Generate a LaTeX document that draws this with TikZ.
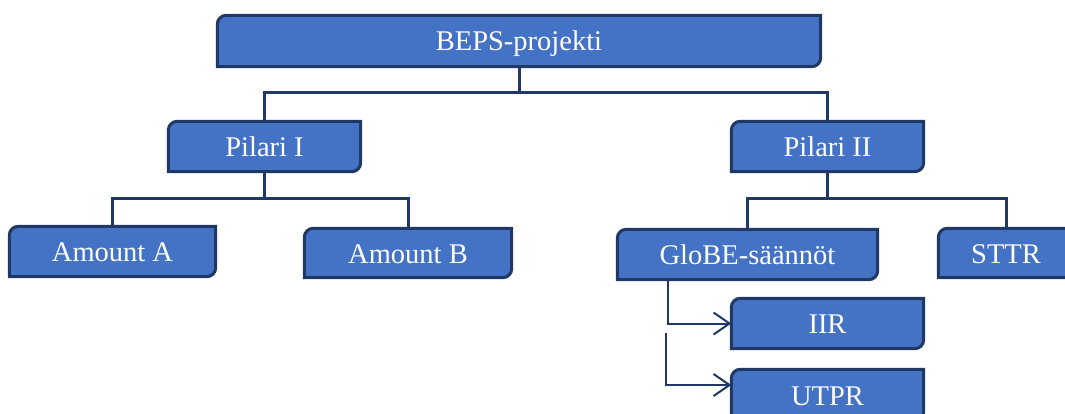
\documentclass[tikz,border=0pt]{standalone}
\usepackage{fontspec}
\setmainfont{Liberation Serif}
\usetikzlibrary{arrows.meta,backgrounds}
\definecolor{boxfill}{HTML}{4472C4}
\definecolor{boxline}{HTML}{1F3864}
\tikzset{
  tbox/.style={rectangle, inner sep=0pt, text=white,
    font=\fontsize{28.5}{30}\selectfont, text height=20pt, text depth=0pt},
  boxshape/.style={fill=boxfill, draw=boxline, line width=3pt},
  conn/.style={draw=boxline, line width=3pt},
  arr/.style={draw=boxline, line width=2pt, -{Straight Barb[length=16pt,width=22pt,line width=2pt]}}
}
\begin{document}
\begin{tikzpicture}[x=1pt,y=1pt]
\useasboundingbox (0,0) rectangle (1065,-414);
\node[tbox, minimum width=603pt, minimum height=51pt] (beps) at (519,-41) {BEPS-projekti};
\node[tbox, minimum width=192pt, minimum height=50pt] (p1) at (264.5,-146.5) {Pilari I};
\node[tbox, minimum width=192pt, minimum height=50pt] (p2) at (827.5,-146.5) {Pilari II};
\node[tbox, minimum width=206pt, minimum height=50pt] (amA) at (112.5,-251.5) {Amount A};
\node[tbox, minimum width=207pt, minimum height=49pt] (amB) at (408,-253) {Amount B};
\node[tbox, minimum width=260pt, minimum height=50pt] (globe) at (747.5,-254.5) {GloBE-säännöt};
\node[tbox, minimum width=135pt, minimum height=49pt] (sttr) at (1006,-253) {STTR};
\node[tbox, minimum width=192pt, minimum height=50pt] (iir) at (827.5,-323.5) {IIR};
\node[tbox, minimum width=192pt, minimum height=51pt] (utpr) at (827.5,-395) {UTPR};
\begin{pgfonlayer}{background}
  \clip (0,0) rectangle (1065,-414);
  \foreach \n in {beps,p1,p2,amA,amB,globe,sttr,iir,utpr}{
    \draw[boxshape] (\n.south west) -- ([yshift=-9pt]\n.north west)
      arc[start angle=180,end angle=90,radius=9pt] -- (\n.north east)
      -- ([yshift=9pt]\n.south east)
      arc[start angle=0,end angle=-90,radius=9pt] -- cycle;
  }
\end{pgfonlayer}
\coordinate (j1) at (519,-93);
\coordinate (j2) at (264.5,-199);
\coordinate (j3) at (827.5,-199);
\draw[conn] (beps.south) -- (j1) -| (p1.north);
\draw[conn] (j1) -| (p2.north);
\draw[conn] (p1.south) -- (j2) -| (amA.north);
\draw[conn] (j2) -| (amB.north);
\draw[conn] (p2.south) -- (j3) -| (globe.north);
\draw[conn] (j3) -| (sttr.north);
\coordinate (g1) at ([xshift=50.5pt]globe.south west);
\coordinate (g2) at (666,-333);
\draw[arr] (g1) |- (iir.west);
\draw[arr] (g2) |- ([yshift=10pt]utpr.west);
\end{tikzpicture}
\end{document}
